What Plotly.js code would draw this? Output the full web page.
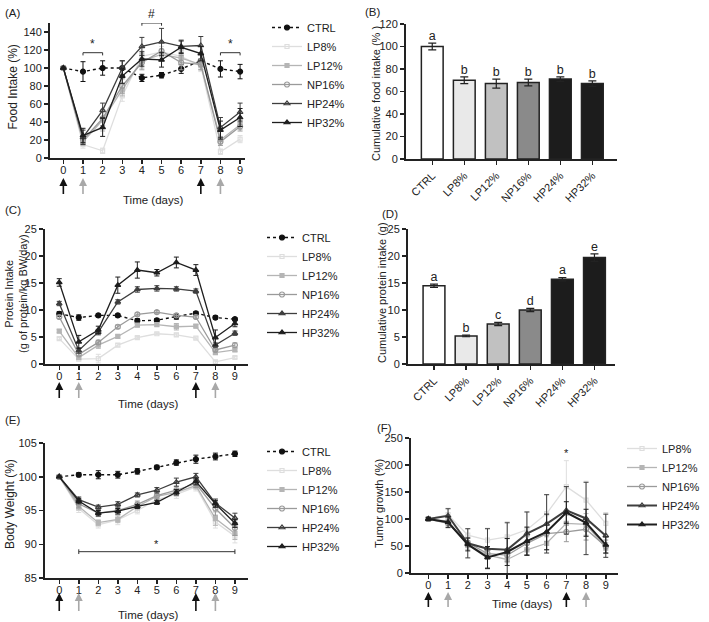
<!DOCTYPE html>
<html><head><meta charset="utf-8">
<script src="https://cdn.plot.ly/plotly-3.0.1.min.js"></script>
<style>html,body{margin:0;padding:0;background:#fff}#chart{width:709px;height:622px}</style>
</head><body><div id="chart"></div>
<script>
// ---------- DATA ----------
const days = [0,1,2,3,4,5,6,7,8,9];
const groups = ['CTRL','LP8%','LP12%','NP16%','HP24%','HP32%'];

// (A) Food intake (%)
const foodCTRL = [100, 96, 100, 100, 89, 92, 99, 108, 99, 96];
const foodLP8  = [100, 15, 8, 69, 113, 118, 113, 102, 7, 21];
const foodLP12 = [100, 18, 42, 76, 108, 115, 111, 104, 20, 37];
const foodNP16 = [100, 20, 44, 80, 106, 119, 106, 104, 18, 35];
const foodHP24 = [100, 23, 53, 100, 124, 129, 124, 125, 34, 51];
const foodHP32 = [100, 25, 34, 91, 110, 109, 123, 116, 31, 45];
const foodCTRLErr = [1, 11, 8, 8, 4, 3, 5, 7, 9, 8];
const foodLP8Err  = [1, 4, 3, 6, 6, 6, 6, 6, 3, 4];
const foodLP12Err = [1, 4, 12, 7, 8, 6, 8, 6, 4, 5];
const foodNP16Err = [1, 4, 8, 8, 8, 10, 8, 6, 4, 5];
const foodHP24Err = [1, 8, 8, 8, 10, 15, 7, 10, 11, 10];
const foodHP32Err = [1, 8, 10, 8, 8, 8, 7, 8, 10, 10];
const sigAStart = [1, 4, 8];
const sigAEnd   = [2, 5, 9];
const sigALevel = [117, 150, 117];
const sigALabel = ['*', '#', '*'];

// (B) Cumulative food intake (%)
const cumFood = [100, 70, 67, 68, 71, 67];
const cumFoodErr = [3, 3, 4, 3, 2, 2.5];
const lettersB = ['a','b','b','b','b','b'];

// (C) Protein intake (g of protein/kg BW/day)
const protCTRL = [9.3, 8.6, 9.0, 9.0, 8.0, 8.1, 8.8, 9.4, 8.6, 8.3];
const protLP8  = [4.7, 0.9, 1.0, 3.5, 4.9, 5.6, 5.4, 4.8, 0.4, 1.2];
const protLP12 = [6.1, 1.2, 3.5, 5.1, 7.2, 7.3, 6.9, 7.0, 2.1, 2.6];
const protNP16 = [8.7, 1.8, 4.0, 6.9, 9.2, 9.6, 9.0, 8.7, 2.6, 3.5];
const protHP24 = [11.2, 2.5, 5.9, 11.5, 13.8, 14.0, 13.9, 13.5, 3.5, 5.7];
const protHP32 = [15.1, 4.1, 6.3, 14.6, 17.4, 16.9, 18.8, 17.4, 4.9, 7.5];
const protCTRLErr = [0.4, 0.5, 0.3, 0.3, 0.4, 0.3, 0.5, 0.3, 0.3, 0.3];
const protLP8Err  = [0.2, 0.2, 0.8, 0.3, 0.2, 0.2, 0.3, 0.2, 0.3, 0.2];
const protLP12Err = [0.3, 0.3, 0.6, 0.3, 0.3, 0.3, 0.6, 0.3, 0.3, 0.3];
const protNP16Err = [0.3, 0.3, 0.4, 0.3, 0.3, 0.3, 0.3, 0.3, 0.3, 0.4];
const protHP24Err = [0.4, 0.5, 0.5, 0.4, 0.5, 0.5, 0.4, 0.4, 0.4, 0.4];
const protHP32Err = [0.7, 1.2, 0.7, 1.5, 1.5, 0.6, 1.0, 1.0, 1.4, 0.6];

// (D) Cumulative protein intake (g)
const cumProt = [14.5, 5.2, 7.4, 10.0, 15.7, 19.7];
const cumProtErr = [0.3, 0.15, 0.3, 0.3, 0.3, 0.7];
const lettersD = ['a','b','c','d','a','e'];

// (E) Body weight (%)
const bwCTRL = [100, 100.3, 100.3, 100.3, 100.8, 101.4, 102.1, 102.6, 103.0, 103.4];
const bwLP8  = [100, 95.3, 92.9, 93.6, 95.0, 96.6, 97.4, 98.5, 93.3, 91.2];
const bwLP12 = [100, 95.6, 93.2, 93.7, 95.6, 97.1, 97.7, 98.7, 93.8, 91.6];
const bwNP16 = [100, 96.0, 94.6, 95.0, 95.9, 97.2, 98.0, 99.0, 95.3, 92.4];
const bwHP24 = [100, 96.6, 95.5, 95.9, 97.3, 98.0, 99.2, 100.0, 96.1, 93.9];
const bwHP32 = [100, 96.4, 94.6, 94.9, 95.6, 96.2, 97.7, 99.3, 96.0, 93.1];
const bwCTRLErr = [0.1, 0.3, 0.6, 0.5, 0.4, 0.3, 0.4, 0.6, 0.5, 0.4];
const bwLP8Err  = [0.1, 0.6, 0.5, 0.7, 0.5, 0.5, 0.6, 0.6, 0.9, 1.0];
const bwLP12Err = [0.1, 0.5, 0.4, 0.5, 0.5, 0.5, 0.5, 0.5, 1.0, 0.9];
const bwNP16Err = [0.1, 0.6, 0.5, 0.6, 0.5, 0.5, 0.5, 0.6, 1.0, 1.1];
const bwHP24Err = [0.1, 0.4, 0.3, 0.4, 0.3, 0.4, 0.6, 0.5, 0.6, 0.7];
const bwHP32Err = [0.1, 0.4, 0.4, 0.4, 0.3, 0.3, 0.4, 0.5, 0.5, 0.6];
const sigEStart = 1, sigEEnd = 9, sigELevel = 88.9, sigELabel = '*';

// (F) Tumor growth (%)
const tumLP8  = [100, 108, 70, 61, 67, 80, 110, 160, 135, 92];
const tumLP12 = [100, 96, 52, 33, 25, 43, 55, 92, 90, 46];
const tumNP16 = [100, 92, 56, 36, 33, 55, 73, 76, 81, 49];
const tumHP24 = [100, 106, 55, 45, 43, 73, 91, 116, 101, 69];
const tumHP32 = [100, 94, 53, 29, 39, 59, 76, 112, 93, 52];
const tumLP8Err  = [3, 12, 12, 22, 28, 33, 35, 48, 35, 20];
const tumLP12Err = [3, 6, 8, 8, 6, 10, 12, 15, 20, 10];
const tumNP16Err = [3, 5, 8, 10, 12, 12, 15, 18, 20, 12];
const tumHP24Err = [3, 13, 27, 37, 50, 40, 54, 44, 67, 40];
const tumHP32Err = [3, 10, 12, 20, 25, 26, 33, 20, 25, 15];
const sigFDay = 7, sigFLevel = 222, sigFLabel = '*';

// dosing arrows
const arrowDays = [0, 1, 7, 8];
const arrowKinds = ['black', 'gray', 'black', 'gray'];

// ---------- STYLE ----------
const W = 709, H = 622;
const fx = px => px / W;
const fy = py => 1 - py / H;
const FONT = 'Liberation Sans, Arial, Helvetica, sans-serif';
const styles = {
  'CTRL':  {color:'#111111', dash:'dot',   symbol:'circle',           size:5, width:1.4},
  'LP8%':  {color:'#dedede', dash:'solid', symbol:'square-open',      size:4, width:1.3},
  'LP12%': {color:'#b5b5b5', dash:'solid', symbol:'square',           size:4, width:1.3},
  'NP16%': {color:'#9a9a9a', dash:'solid', symbol:'circle-open',      size:5, width:1.3},
  'HP24%': {color:'#3e3e3e', dash:'solid', symbol:'triangle-up-open', size:5, width:1.3},
  'HP32%': {color:'#1e1e1e', dash:'solid', symbol:'triangle-up',      size:5, width:1.3}
};
const arrowColor = {black:'#111111', gray:'#a8a8a8'};
const barColors = ['#ffffff','#e9e9e9','#c1c1c1','#8a8a8a','#1c1c1c','#1c1c1c'];

function series(xa, ya, name, y, err, legend, over) {
  const st = Object.assign({}, styles[name], over || {});
  return {
    type:'scatter', mode:'lines+markers', name:name, x:days, y:y,
    xaxis:xa, yaxis:ya, legend:legend, showlegend:true, cliponaxis:false,
    line:{color:st.color, width:st.width, dash:st.dash},
    marker:{symbol:st.symbol, size:st.size, color:st.color, line:{color:st.color, width:1.2}},
    error_y:{type:'data', array:err, visible:true, color:st.color, thickness:1, width:2.5}
  };
}

const traces = [];
[['CTRL',foodCTRL,foodCTRLErr],['LP8%',foodLP8,foodLP8Err],['LP12%',foodLP12,foodLP12Err],
 ['NP16%',foodNP16,foodNP16Err],['HP24%',foodHP24,foodHP24Err],['HP32%',foodHP32,foodHP32Err]]
 .forEach(s => traces.push(series('x','y',s[0],s[1],s[2],'legend')));
[['CTRL',protCTRL,protCTRLErr],['LP8%',protLP8,protLP8Err],['LP12%',protLP12,protLP12Err],
 ['NP16%',protNP16,protNP16Err],['HP24%',protHP24,protHP24Err],['HP32%',protHP32,protHP32Err]]
 .forEach(s => traces.push(series('x3','y3',s[0],s[1],s[2],'legend2', s[0]==='HP24%'?{symbol:'triangle-up'}:null)));
[['CTRL',bwCTRL,bwCTRLErr],['LP8%',bwLP8,bwLP8Err],['LP12%',bwLP12,bwLP12Err],
 ['NP16%',bwNP16,bwNP16Err],['HP24%',bwHP24,bwHP24Err],['HP32%',bwHP32,bwHP32Err]]
 .forEach(s => traces.push(series('x5','y5',s[0],s[1],s[2],'legend3')));
[['LP8%',tumLP8,tumLP8Err],['LP12%',tumLP12,tumLP12Err],['NP16%',tumNP16,tumNP16Err],
 ['HP24%',tumHP24,tumHP24Err],['HP32%',tumHP32,tumHP32Err]]
 .forEach(s => traces.push(series('x6','y6',s[0],s[1],s[2],'legend4',
   (s[0]==='HP24%'||s[0]==='HP32%')?{width:2}:null)));

function bars(xa, ya, vals, errs, letters) {
  traces.push({type:'bar', x:groups, y:vals, xaxis:xa, yaxis:ya, showlegend:false, width:0.68,
    marker:{color:barColors, line:{color:'#222', width:1.5}},
    error_y:{type:'data', array:errs, visible:true, color:'#222', thickness:1.2, width:4}});
  traces.push({type:'scatter', mode:'text', x:groups, y:vals.map((v,i)=>v+errs[i]), text:letters,
    textposition:'top center', xaxis:xa, yaxis:ya, showlegend:false, cliponaxis:false,
    textfont:{size:12.5, color:'#222', family:FONT}});
}
bars('x2','y2',cumFood,cumFoodErr,lettersB);
bars('x4','y4',cumProt,cumProtErr,lettersD);

sigAStart.forEach((s,i) => {
  const e = sigAEnd[i], lv = sigALevel[i];
  traces.push({type:'scatter', mode:'lines', x:[s,s,e,e], y:[lv-3,lv,lv,lv-3], xaxis:'x', yaxis:'y',
    showlegend:false, cliponaxis:false, line:{color:'#333', width:1}});
});
traces.push({type:'scatter', mode:'lines', xaxis:'x5', yaxis:'y5', showlegend:false, cliponaxis:false,
  x:[sigEStart,sigEStart,null,sigEStart,sigEEnd,null,sigEEnd,sigEEnd],
  y:[sigELevel-0.35,sigELevel+0.35,null,sigELevel,sigELevel,null,sigELevel-0.35,sigELevel+0.35],
  line:{color:'#333', width:1}});

// ---------- LAYOUT ----------
const tickFont = {size:11, color:'#222', family:FONT};
function axBase(extra) {
  return Object.assign({showline:true, linecolor:'#222', linewidth:2, ticks:'outside', ticklen:4,
    tickwidth:1.5, tickcolor:'#222', showgrid:false, zeroline:false, tickfont:tickFont,
    automargin:false, fixedrange:true}, extra);
}
function dayAxis(l, r, rng, anchor) {
  return axBase({domain:[fx(l), fx(r)], range:rng, tickmode:'array', tickvals:days,
    ticktext:days.map(String), anchor:anchor, ticklabelstandoff:-3});
}
function catAxis(l, r, rng, anchor) {
  return axBase({domain:[fx(l), fx(r)], range:rng, type:'category', anchor:anchor, tickangle:-45});
}
function valAxis(top, bot, rng, dtick, anchor) {
  return axBase({domain:[fy(bot), fy(top)], range:rng, dtick:dtick, tick0:0, anchor:anchor});
}

const legendStyle = {xanchor:'left', yanchor:'top', font:{size:11, family:FONT, color:'#222'},
  bgcolor:'rgba(0,0,0,0)', tracegroupgap:0, itemwidth:30};
const layout = {
  width:W, height:H, margin:{l:0,r:0,t:0,b:0}, paper_bgcolor:'#fff', plot_bgcolor:'rgba(0,0,0,0)',
  font:{family:FONT, color:'#222'},
  xaxis:  dayAxis(50, 245, [-0.68, 9.25], 'y'),
  yaxis:  valAxis(23, 158, [0,150], 20, 'x'),
  xaxis2: catAxis(406, 617, [-0.82, 5.77], 'y2'),
  yaxis2: valAxis(24, 159, [0,120], 20, 'x2'),
  xaxis3: dayAxis(45, 248, [-0.73, 9.67], 'y3'),
  yaxis3: valAxis(229, 364, [0,25], 5, 'x3'),
  xaxis4: catAxis(408, 615, [-0.81, 5.64], 'y4'),
  yaxis4: valAxis(229, 364, [0,25], 5, 'x4'),
  xaxis5: dayAxis(45, 248, [-0.73, 9.67], 'y5'),
  yaxis5: valAxis(443, 578, [85,105], 5, 'x5'),
  xaxis6: dayAxis(411, 618, [-0.88, 9.62], 'y6'),
  yaxis6: valAxis(438, 573, [0,250], 50, 'x6'),
  legend:  Object.assign({x:fx(267), y:fy(13)},  legendStyle),
  legend2: Object.assign({x:fx(262), y:fy(223)}, legendStyle),
  legend3: Object.assign({x:fx(262), y:fy(437)}, legendStyle),
  legend4: Object.assign({x:fx(622), y:fy(434)}, legendStyle),
  annotations: []
};

// panel labels
[['(A)',3,13],['(B)',363,12],['(C)',3,210],['(D)',380,214],['(E)',3,420],['(F)',375,428]].forEach(p => {
  layout.annotations.push({text:p[0], xref:'paper', yref:'paper', x:fx(p[1]), y:fy(p[2]),
    xanchor:'left', yanchor:'middle', showarrow:false, font:{size:11.5, family:FONT, color:'#222'}});
});
// axis titles
const xTitles = [['Time (days)',153,200],['Time (days)',148,404],['Time (days)',148,615],['Time (days)',522,604]];
xTitles.forEach(t => layout.annotations.push({text:t[0], xref:'paper', yref:'paper', x:fx(t[1]), y:fy(t[2]),
  xanchor:'center', yanchor:'middle', showarrow:false, font:{size:11.5, family:FONT, color:'#222'}}));
const yTitles = [['Food Intake (%)',12.5,87,12],['Cumulative food intake (% )',376,93,11],
  ['Protein Intake<br>(g of protein/kg BW/day)',16,294,11],['Cumulative protein intake (g)',382,293,11],
  ['Body Weight (%)',10,504,12],['Tumor growth (%)',379,503,11.2]];
yTitles.forEach(t => layout.annotations.push({text:t[0], xref:'paper', yref:'paper', x:fx(t[1]), y:fy(t[2]),
  xanchor:'center', yanchor:'middle', textangle:-90, showarrow:false,
  font:{size:t[3], family:FONT, color:'#222'}}));
// dosing arrows (head y, tail y in px)
[['x',178,195],['x3',382,399],['x5',593,612],['x6',592,608]].forEach(a => {
  arrowDays.forEach((d,i) => {
    layout.annotations.push({x:d, xref:a[0], y:fy(a[1]), yref:'paper', ax:0, ay:a[2]-a[1],
      axref:'pixel', ayref:'pixel', text:' ', font:{size:1}, borderpad:0, standoff:0, startstandoff:0,
      showarrow:true, arrowhead:2, arrowsize:1, arrowwidth:1.6, arrowcolor:arrowColor[arrowKinds[i]]});
  });
});
// significance labels
sigAStart.forEach((s,i) => layout.annotations.push({x:(s+sigAEnd[i])/2, y:sigALevel[i], xref:'x', yref:'y',
  text:sigALabel[i], showarrow:false, yanchor:'bottom', font:{size:12, family:FONT, color:'#222'}}));
layout.annotations.push({x:(sigEStart+sigEEnd)/2, y:sigELevel, xref:'x5', yref:'y5', text:sigELabel,
  showarrow:false, yanchor:'bottom', font:{size:11, family:FONT, color:'#222'}});
layout.annotations.push({x:sigFDay, y:sigFLevel, xref:'x6', yref:'y6', text:sigFLabel,
  showarrow:false, yanchor:'middle', font:{size:11, family:FONT, color:'#222'}});

Plotly.newPlot('chart', traces, layout, {staticPlot:true});
</script></body></html>
